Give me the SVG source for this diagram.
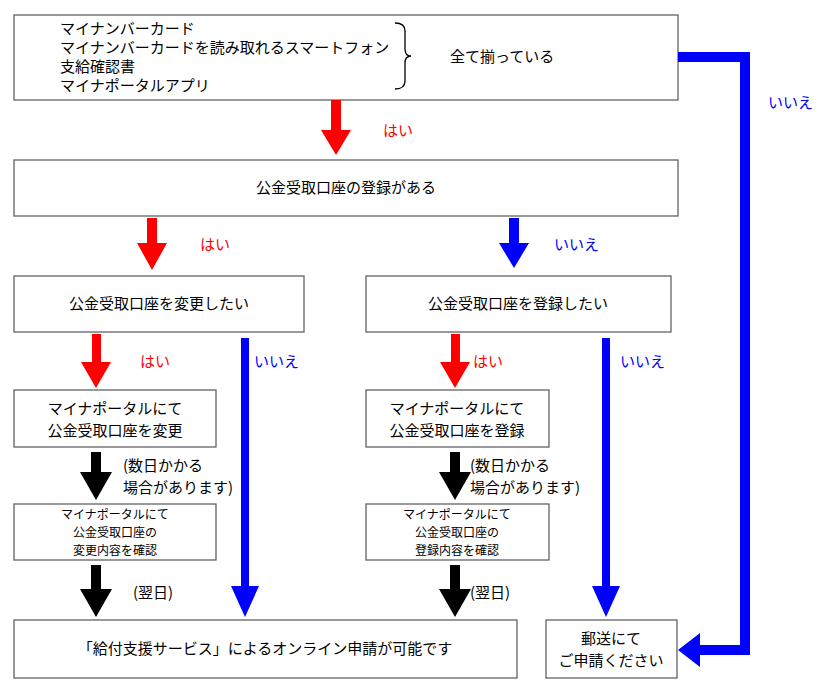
<svg xmlns="http://www.w3.org/2000/svg" width="830" height="693" viewBox="0 0 830 693">
<style>
text{font-family:"Noto Sans CJK JP","Noto Sans",sans-serif;font-size:15px;fill:#000}
.s{font-size:12px}
.b{fill:#fff;stroke:#555;stroke-width:1.2}
.c{text-anchor:middle}
.r{fill:#f00}.u{fill:#00f}
</style>
<rect width="830" height="693" fill="#fff"/>
<g id="n1"><rect class="b" x="14" y="15" width="664" height="85"/>
<text x="60" y="34">マイナンバーカード</text><text x="60" y="53">マイナンバーカードを読み取れるスマートフォン</text><text x="60" y="72">支給確認書</text><text x="60" y="91">マイナポータルアプリ</text>
<path d="M395 23 q10 0 10 8 v18 q0 7 6 7 q-6 0 -6 7 v18 q0 8 -10 8" fill="none" stroke="#000" stroke-width="1.3"/>
<text x="450" y="62">全て揃っている</text></g>
<g id="n2"><rect class="b" x="14" y="160" width="664" height="56"/><text class="c" x="346" y="193">公金受取口座の登録がある</text></g>
<g id="n3"><rect class="b" x="14" y="276" width="290" height="56"/><text class="c" x="159" y="309">公金受取口座を変更したい</text></g>
<g id="n4"><rect class="b" x="366" y="276" width="305" height="56"/><text class="c" x="518" y="309">公金受取口座を登録したい</text></g>
<g id="n5"><rect class="b" x="14" y="390" width="202" height="57"/><text class="c" x="115" y="414">マイナポータルにて</text><text class="c" x="115" y="436">公金受取口座を変更</text></g>
<g id="n6"><rect class="b" x="366" y="390" width="183" height="57"/><text class="c" x="457" y="414">マイナポータルにて</text><text class="c" x="457" y="436">公金受取口座を登録</text></g>
<g id="n7"><rect class="b" x="14" y="504" width="202" height="56"/><text class="c s" x="115" y="519">マイナポータルにて</text><text class="c s" x="115" y="537">公金受取口座の</text><text class="c s" x="115" y="555">変更内容を確認</text></g>
<g id="n8"><rect class="b" x="366" y="504" width="183" height="56"/><text class="c s" x="457" y="519">マイナポータルにて</text><text class="c s" x="457" y="537">公金受取口座の</text><text class="c s" x="457" y="555">登録内容を確認</text></g>
<g id="n9"><rect class="b" x="14" y="620" width="503" height="58"/><text class="c" x="265" y="654">「給付支援サービス」によるオンライン申請が可能です</text></g>
<g id="n10"><rect class="b" x="546" y="620" width="131" height="58"/><text class="c" x="611" y="644">郵送にて</text><text class="c" x="611" y="666">ご申請ください</text></g>
<g id="connectors">
<path d="M331 100h10v30h10l-15 25l-15-25h10z" fill="#f00"/>
<path d="M147 218h10v25h10l-15 27l-15-27h10z" fill="#f00"/>
<path d="M92 334h9v28h10l-15 26l-15-26h11z" fill="#f00"/>
<path d="M451 334h9v28h10l-15 26l-15-26h11z" fill="#f00"/>
<path d="M509 218h10v25h10l-15 25l-15-25h10z" fill="#00f"/>
<path d="M241 338h8v248h10l-14 31l-14-31h10z" fill="#00f"/>
<path d="M602 338h8v248h10l-14 31l-14-31h10z" fill="#00f"/>
<path d="M678 52h72v603h-50v12l-22-17l22-17v12h40v-583h-62z" fill="#00f"/>
<path d="M91 452h10v20h11l-16 28l-16-28h11z" fill="#000"/>
<path d="M450 452h10v20h11l-16 28l-16-28h11z" fill="#000"/>
<path d="M91 565h10v24h11l-16 28l-16-28h11z" fill="#000"/>
<path d="M450 565h10v24h11l-16 28l-16-28h11z" fill="#000"/>
</g>
<text class="r" x="383" y="136">はい</text>
<text class="u" x="768" y="108">いいえ</text>
<text class="r" x="200" y="250">はい</text>
<text class="u" x="554" y="250">いいえ</text>
<text class="r" x="140" y="367">はい</text>
<text class="u" x="254" y="367">いいえ</text>
<text class="r" x="473" y="367">はい</text>
<text class="u" x="620" y="367">いいえ</text>
<text x="123" y="471">(数日かかる</text><text x="123" y="493">場合があります)</text>
<text x="470" y="471">(数日かかる</text><text x="470" y="493">場合があります)</text>
<text x="133" y="598">(翌日)</text><text x="470" y="598">(翌日)</text>
</svg>
